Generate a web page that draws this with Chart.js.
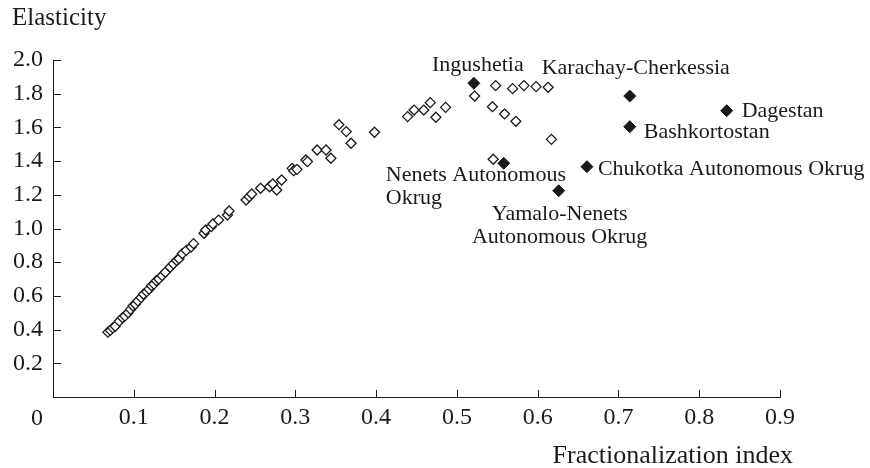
<!DOCTYPE html>
<html>
<head>
<meta charset="utf-8">
<script src="https://cdn.jsdelivr.net/npm/chart.js@4.4.1/dist/chart.umd.min.js"></script>
<style>
  html, body { margin: 0; padding: 0; background: #fff; }
  #wrap { width: 870px; height: 468px; }
</style>
</head>
<body>
<div id="wrap"><canvas id="c" width="870" height="468"></canvas></div>
<script>
// ---- DATA ----
const xAxisTitle = 'Fractionalization index';
const yAxisTitle = 'Elasticity';

// regions without labels (hollow diamonds)
const otherX = [0.068, 0.071, 0.074, 0.077, 0.082, 0.086, 0.089, 0.093, 0.096, 0.099,
  0.102, 0.105, 0.109, 0.112, 0.116, 0.119, 0.122, 0.125, 0.128, 0.131,
  0.135, 0.139, 0.145, 0.149, 0.153, 0.156, 0.160, 0.165, 0.171, 0.174,
  0.187, 0.189, 0.196, 0.198, 0.205, 0.216, 0.218, 0.239, 0.243, 0.246,
  0.257, 0.268, 0.272, 0.277, 0.283, 0.296, 0.298, 0.302, 0.313, 0.315,
  0.327, 0.338, 0.344, 0.354, 0.363, 0.369, 0.398, 0.439, 0.447, 0.459,
  0.467, 0.474, 0.486, 0.522, 0.548, 0.569, 0.583, 0.598, 0.613, 0.544,
  0.559, 0.573, 0.617, 0.545];
const otherY = [0.385, 0.395, 0.41, 0.42, 0.45, 0.47, 0.48, 0.50, 0.52, 0.54,
  0.55, 0.57, 0.59, 0.61, 0.625, 0.64, 0.66, 0.67, 0.69, 0.70,
  0.72, 0.74, 0.77, 0.79, 0.81, 0.82, 0.85, 0.87, 0.89, 0.91,
  0.972, 0.991, 1.011, 1.027, 1.050, 1.080, 1.104, 1.169, 1.189, 1.205,
  1.239, 1.248, 1.264, 1.228, 1.288, 1.357, 1.343, 1.351, 1.407, 1.397,
  1.466, 1.466, 1.417, 1.616, 1.575, 1.506, 1.571, 1.664, 1.703, 1.703,
  1.747, 1.660, 1.719, 1.786, 1.848, 1.830, 1.848, 1.842, 1.838, 1.723,
  1.680, 1.636, 1.529, 1.411];

// labelled regions (filled diamonds)
const namedRegions = ['Ingushetia', 'Karachay-Cherkessia', 'Dagestan', 'Bashkortostan',
  'Chukotka Autonomous Okrug', 'Nenets Autonomous Okrug', 'Yamalo-Nenets Autonomous Okrug'];
const namedX = [0.521, 0.714, 0.834, 0.714, 0.661, 0.558, 0.626];
const namedY = [1.862, 1.786, 1.699, 1.604, 1.367, 1.387, 1.224];

// ---- label placement (pixel offsets from the point) ----
const labelPlacement = [
  { lines: ['Ingushetia'], dx: 4, dy: -12, align: 'center' },
  { lines: ['Karachay-Cherkessia'], dx: 6, dy: -22, align: 'center' },
  { lines: ['Dagestan'], dx: 15, dy: 6, align: 'left' },
  { lines: ['Bashkortostan'], dx: 14, dy: 11, align: 'left' },
  { lines: ['Chukotka Autonomous Okrug'], dx: 11, dy: 8, align: 'left' },
  { lines: ['Nenets Autonomous', 'Okrug'], dx: -118, dy: 18, align: 'left' },
  { lines: ['Yamalo-Nenets', 'Autonomous Okrug'], dx: 1, dy: 29, align: 'center' }
];

const INK = '#1a1a1a';
const SERIF = '"Liberation Serif", "Times New Roman", serif';

const otherPts = otherX.map((x, i) => ({ x: x, y: otherY[i] }));
const namedPts = namedX.map((x, i) => ({ x: x, y: namedY[i] }));

const decorPlugin = {
  id: 'decor',
  afterDraw(chart) {
    const ctx = chart.ctx;
    const xs = chart.scales.x, ys = chart.scales.y;
    ctx.save();
    // inward tick marks
    ctx.strokeStyle = INK;
    ctx.lineWidth = 1;
    ctx.beginPath();
    ys.ticks.forEach(t => {
      if (t.value === 0) return;
      const py = Math.round(ys.getPixelForValue(t.value)) + 0.5;
      ctx.moveTo(xs.left, py);
      ctx.lineTo(xs.left + 8, py);
    });
    xs.ticks.forEach(t => {
      if (t.value === 0) return;
      const px = Math.round(xs.getPixelForValue(t.value)) + 0.5;
      ctx.moveTo(px, ys.bottom);
      ctx.lineTo(px, ys.bottom - 7);
    });
    ctx.stroke();

    ctx.fillStyle = INK;
    // origin label
    ctx.font = '24px ' + SERIF;
    ctx.textAlign = 'center';
    ctx.textBaseline = 'alphabetic';
    ctx.fillText('0', xs.left - 16, 425);
    // x axis title
    ctx.font = '26px ' + SERIF;
    ctx.textAlign = 'right';
    ctx.fillText(xAxisTitle, xs.right + 13, 463);

    // region labels
    ctx.font = '22px ' + SERIF;
    namedX.forEach((v, i) => {
      const p = labelPlacement[i];
      const px = xs.getPixelForValue(v);
      const py = ys.getPixelForValue(namedY[i]);
      ctx.textAlign = p.align;
      p.lines.forEach((line, k) => {
        ctx.fillText(line, px + p.dx, py + p.dy + k * 23);
      });
    });
    ctx.restore();
  }
};

new Chart(document.getElementById('c'), {
  type: 'scatter',
  data: {
    datasets: [
      {
        label: 'Other regions',
        data: otherPts,
        pointStyle: 'rectRot',
        pointRadius: 5,
        pointHoverRadius: 5,
        borderWidth: 1.3,
        borderColor: INK,
        backgroundColor: '#ffffff'
      },
      {
        label: 'Named regions',
        data: namedPts,
        pointStyle: 'rectRot',
        pointRadius: 6,
        pointHoverRadius: 6,
        borderWidth: 1,
        borderColor: INK,
        backgroundColor: INK
      }
    ]
  },
  options: {
    responsive: false,
    animation: false,
    events: [],
    layout: { padding: { left: 12, right: 90, top: 0, bottom: 0 } },
    plugins: {
      legend: { display: false },
      tooltip: { enabled: false },
      title: {
        display: true,
        text: yAxisTitle,
        align: 'start',
        color: INK,
        font: { family: SERIF, size: 25, weight: 'normal' },
        padding: { top: 3, bottom: 27 }
      }
    },
    scales: {
      x: {
        type: 'linear',
        min: 0, max: 0.9,
        ticks: {
          stepSize: 0.1,
          color: INK,
          padding: 6,
          font: { family: SERIF, size: 24 },
          callback: v => (Math.abs(v) < 1e-9 ? '' : v.toFixed(1))
        },
        grid: { display: true, drawOnChartArea: false, drawTicks: false },
        border: { display: true, color: INK, width: 1 },
        afterFit(s) { s.height = 71; s.paddingLeft = 0; s.paddingRight = 0; }
      },
      y: {
        type: 'linear',
        min: 0, max: 2.0,
        ticks: {
          stepSize: 0.2,
          color: INK,
          padding: 10,
          font: { family: SERIF, size: 24 },
          callback: v => (Math.abs(v) < 1e-9 ? '' : v.toFixed(1))
        },
        grid: { display: true, drawOnChartArea: false, drawTicks: false },
        border: { display: true, color: INK, width: 1 },
        afterFit(s) { s.width = 41; s.paddingTop = 0; s.paddingBottom = 0; }
      }
    }
  },
  plugins: [decorPlugin]
});
</script>
</body>
</html>
